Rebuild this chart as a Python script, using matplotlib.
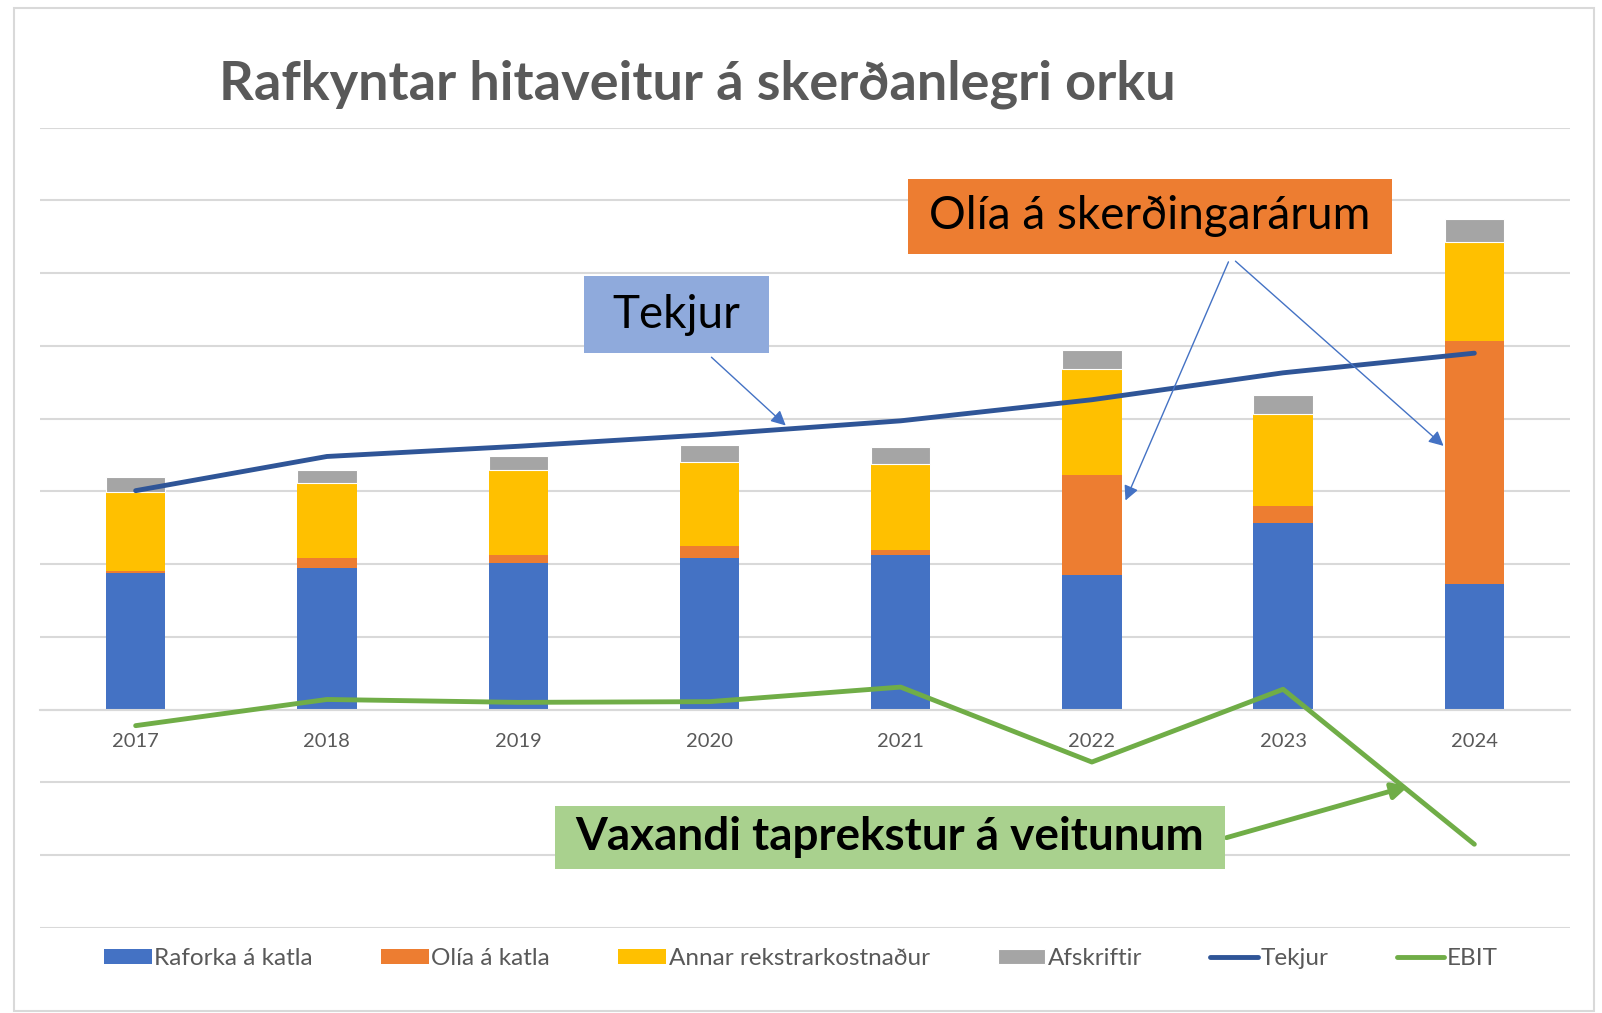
import numpy as np
import matplotlib
matplotlib.use("Agg")
import matplotlib.pyplot as plt
from matplotlib.patches import Rectangle

plt.rcParams["font.family"] = ["Lato", "DejaVu Sans"]

years = ["2017", "2018", "2019", "2020", "2021", "2022", "2023", "2024"]
raforka = [1.88, 1.95, 2.01, 2.08, 2.12, 1.85, 2.56, 1.73]
olia = [0.02, 0.13, 0.12, 0.17, 0.08, 1.38, 0.24, 3.34]
annar = [1.09, 1.04, 1.17, 1.15, 1.17, 1.45, 1.26, 1.36]
afskriftir = [0.21, 0.17, 0.18, 0.24, 0.24, 0.27, 0.27, 0.31]
tekjur = [3.01, 3.48, 3.62, 3.78, 3.97, 4.26, 4.63, 4.90]
ebit = [-0.22, 0.14, 0.10, 0.11, 0.31, -0.72, 0.28, -1.85]

C_BLUE = "#4472C4"
C_ORANGE = "#ED7D31"
C_YELLOW = "#FFC000"
C_GRAY = "#A5A5A5"
C_DARK = "#2F5597"
C_GREEN = "#70AD47"
TXT = "#595959"

fig = plt.figure(figsize=(16.02, 10.13), dpi=100)
ax = fig.add_axes([0.025, 0.084, 0.955, 0.790])

# chart frame
fig.patches.append(Rectangle((0.009, 0.002), 0.986, 0.99, transform=fig.transFigure,
                             fill=False, edgecolor="#d9d9d9", linewidth=1.5))

x = np.arange(len(years))
w = 0.31
r = np.array(raforka)
o = np.array(olia)
a = np.array(annar)
g = np.array(afskriftir)

ax.bar(x, r, w, color=C_BLUE, label="Raforka á katla", zorder=2)
ax.bar(x, o, w, bottom=r, color=C_ORANGE, label="Olía á katla", zorder=2)
ax.bar(x, a, w, bottom=r + o, color=C_YELLOW, label="Annar rekstrarkostnaður", zorder=2)
ax.bar(x, g, w, bottom=r + o + a, color=C_GRAY, edgecolor="white", linewidth=0.8,
       label="Afskriftir", zorder=2)
ax.plot(x, tekjur, color=C_DARK, lw=3.5, label="Tekjur", zorder=3, solid_capstyle="round")
ax.plot(x, ebit, color=C_GREEN, lw=3.5, label="EBIT", zorder=3, solid_capstyle="round")

ax.set_xlim(-0.5, 7.5)
ax.set_ylim(-3, 8)
ax.set_yticks(np.arange(-3, 9, 1))
ax.yaxis.grid(True, color="#d9d9d9", linewidth=1.5)
ax.set_axisbelow(True)
ax.tick_params(axis="y", left=False, labelleft=False)
for s in ["left", "right", "top"]:
    ax.spines[s].set_visible(False)
ax.spines["bottom"].set_position(("data", 0))
ax.spines["bottom"].set_color("#d9d9d9")
ax.spines["bottom"].set_linewidth(1.5)
ax.set_xticks(x)
ax.set_xticklabels(years, color=TXT, fontsize=14.5)
ax.tick_params(axis="x", length=0, pad=17)

# title
fig.text(0.137, 0.917, "Rafkyntar hitaveitur á skerðanlegri orku", fontsize=39,
         fontweight="bold", color=TXT, ha="left", va="center")

# annotation boxes
def box(x0, y0, x1, y1, color, text, **kw):
    ax.add_patch(Rectangle((x0, y0), x1 - x0, y1 - y0, facecolor=color,
                           edgecolor="none", zorder=4))
    ax.text((x0 + x1) / 2, (y0 + y1) / 2, text, ha="center", va="center",
            color="black", zorder=5, **kw)

arrow_thin = dict(arrowstyle="-|>", color=C_BLUE, lw=1.0, mutation_scale=22)
ax.annotate("", xy=(5.17, 2.84), xytext=(5.72, 6.19), arrowprops=arrow_thin, zorder=4)
ax.annotate("", xy=(6.85, 3.60), xytext=(5.74, 6.19), arrowprops=arrow_thin, zorder=4)
ax.annotate("", xy=(3.41, 3.88), xytext=(3.0, 4.87), arrowprops=arrow_thin, zorder=4)
ax.annotate("", xy=(6.67, -1.04), xytext=(5.69, -1.77),
            arrowprops=dict(arrowstyle="-|>", color=C_GREEN, lw=3.5, mutation_scale=24),
            zorder=4)

box(4.037, 6.26, 6.572, 7.30, C_ORANGE, "Olía á skerðingarárum", fontsize=33)
box(2.342, 4.90, 3.31, 5.955, "#8FAADC", "Tekjur", fontsize=33)
box(2.193, -2.19, 5.695, -1.32, "#A9D18E", "Vaxandi taprekstur á veitunum",
    fontsize=33, fontweight="bold")

handles, labels = ax.get_legend_handles_labels()
order = [2, 3, 4, 5, 0, 1]
fig.legend([handles[i] for i in order], [labels[i] for i in order],
           loc="center", bbox_to_anchor=(0.5, 0.054), ncol=6, frameon=False,
           fontsize=17.5, labelcolor=TXT, handlelength=1.95, handleheight=0.6,
           handletextpad=0.12, columnspacing=2.8)

fig.savefig("out.png", dpi=100)
